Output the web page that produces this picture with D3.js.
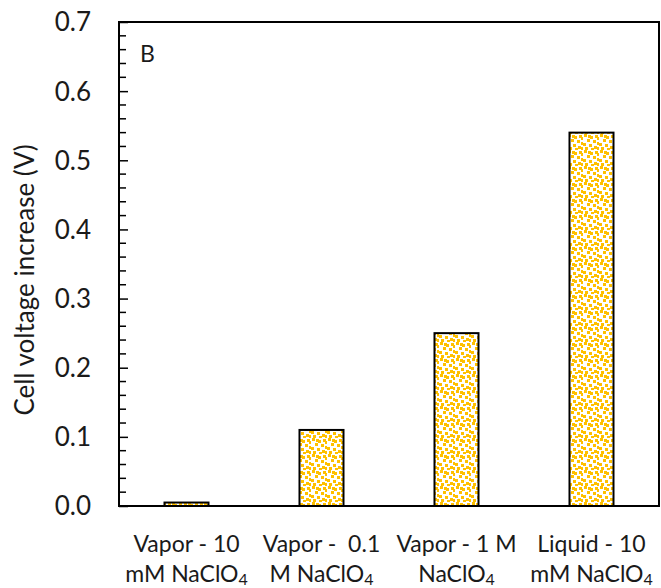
<!DOCTYPE html>
<html>
<head>
<meta charset="utf-8">
<script src="https://cdn.jsdelivr.net/npm/d3@7"></script>
<style>
  body { margin: 0; background: #fff; }
  text { font-family: Lato, "Open Sans", sans-serif; fill: #1a1a1a; white-space: pre; }
</style>
</head>
<body>
<div id="chart"></div>
<script>
// data
const labelLine1 = ["Vapor - 10", "Vapor -  0.1", "Vapor - 1 M", "Liquid - 10"];
const labelLine2 = ["mM NaClO4", "M NaClO4", "NaClO4", "mM NaClO4"];
const voltageIncrease = [0.005, 0.11, 0.25, 0.54];
const yTicks = [0.0, 0.1, 0.2, 0.3, 0.4, 0.5, 0.6, 0.7];

const W = 661, H = 588;
const margin = { top: 22, right: 2, bottom: 82, left: 119 };
const width = W - margin.left - margin.right;
const height = H - margin.top - margin.bottom;
const gold = "#FFC000";

const root = d3.select("#chart").append("svg")
    .attr("width", W)
    .attr("height", H);

// dotted fill like the excel pattern
const pat = root.append("defs").append("pattern")
    .attr("id", "dots")
    .attr("patternUnits", "userSpaceOnUse")
    .attr("width", 16)
    .attr("height", 16);
pat.append("rect").attr("width", 16).attr("height", 16).attr("fill", "#fff");
[[1,0],[7,2],[12,1],[4,5],[10,6],[0,9],[14,8],[6,10],[11,12],[2,13],[8,14],[14,3],[5,1],[14,13]]
    .forEach(p => pat.append("rect")
        .attr("x", p[0]).attr("y", p[1])
        .attr("width", 3).attr("height", 3)
        .attr("fill", gold));

const svg = root.append("g")
    .attr("transform", `translate(${margin.left},${margin.top})`);

const x = d3.scaleBand()
    .domain(labelLine1.map((d, i) => i))
    .range([0, width])
    .padding(0);

const y = d3.scaleLinear()
    .domain([0, 0.7])
    .range([height, 0]);

const barW = x.bandwidth() * 0.326;

svg.selectAll(".bar")
    .data(voltageIncrease)
    .enter()
    .append("rect")
        .attr("class", "bar")
        .attr("x", (d, i) => x(i) + (x.bandwidth() - barW) / 2)
        .attr("y", d => y(d))
        .attr("width", barW)
        .attr("height", d => y(0) - y(d))
        .attr("fill", "url(#dots)")
        .attr("stroke", "#000")
        .attr("stroke-width", 2);

// minor ticks, inside the box
const minor = d3.range(0, 0.7001, 0.02).filter(v => Math.abs(v * 10 - Math.round(v * 10)) > 1e-6);
svg.selectAll(".minor")
    .data(minor)
    .enter()
    .append("line")
        .attr("x1", 0).attr("x2", 7)
        .attr("y1", d => y(d)).attr("y2", d => y(d))
        .attr("stroke", "#000")
        .attr("stroke-width", 1.5);

// y axis with major ticks pointing in
svg.append("g")
    .call(d3.axisRight(y).tickValues(yTicks).tickSize(9).tickFormat(() => ""))
    .call(g => g.select(".domain").remove())
    .call(g => g.selectAll("line").attr("stroke", "#000").attr("stroke-width", 1.5));

svg.selectAll(".ylab")
    .data(yTicks)
    .enter()
    .append("text")
        .attr("x", -28)
        .attr("y", d => y(d))
        .attr("dy", "0.36em")
        .attr("text-anchor", "end")
        .style("font-size", "26px")
        .text(d3.format(".1f"));

// plot border
svg.append("rect")
    .attr("width", width)
    .attr("height", height)
    .attr("fill", "none")
    .attr("stroke", "#000")
    .attr("stroke-width", 2);

// category labels in two lines, subscript 4
const xl = svg.selectAll(".xlab")
    .data(labelLine1)
    .enter()
    .append("text")
        .attr("text-anchor", "middle")
        .attr("transform", (d, i) => `translate(${x(i) + x.bandwidth() / 2},${height})`)
        .style("font-size", "23px");
xl.append("tspan").attr("x", 0).attr("y", 46).text(d => d);
xl.each(function(d, i) {
    const t2 = d3.select(this).append("tspan").attr("x", 0).attr("y", 76);
    const s = labelLine2[i];
    t2.append("tspan").text(s.slice(0, -1));
    t2.append("tspan").attr("dy", 3).style("font-size", "16px").text(s.slice(-1));
});

svg.append("text")
    .attr("transform", `translate(${-85},${height / 2 + 16}) rotate(-90)`)
    .attr("text-anchor", "middle")
    .style("font-size", "26px")
    .text("Cell voltage increase (V)");

svg.append("text")
    .attr("x", 21)
    .attr("y", 40)
    .style("font-size", "23px")
    .text("B");
</script>
</body>
</html>
